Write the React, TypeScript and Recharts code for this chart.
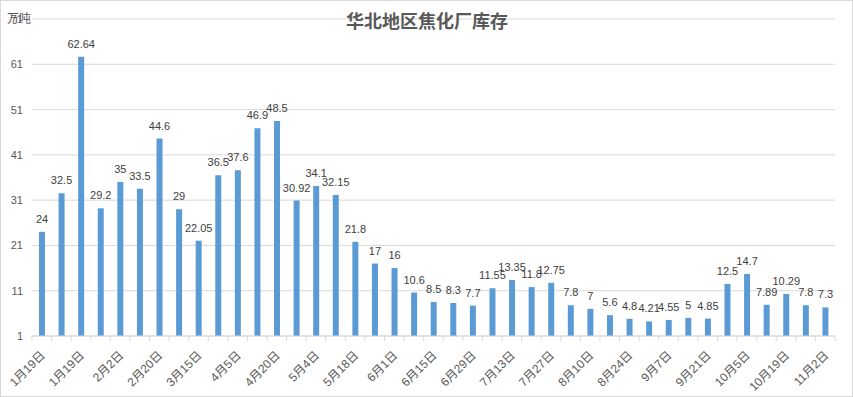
import React from "react";
import { BarChart, Bar, XAxis, YAxis, CartesianGrid, LabelList } from "recharts";

const dates = [
  "1月19日", "1月5日", "1月19日", "1月26日", "2月2日", "2月9日", "2月20日", "3月1日",
  "3月15日", "3月22日", "4月5日", "4月12日", "4月20日", "4月27日", "5月4日", "5月11日",
  "5月18日", "5月25日", "6月1日", "6月8日", "6月15日", "6月22日", "6月29日", "7月6日",
  "7月13日", "7月20日", "7月27日", "8月3日", "8月10日", "8月17日", "8月24日", "8月31日",
  "9月7日", "9月14日", "9月21日", "9月28日", "10月5日", "10月12日", "10月19日", "10月26日",
  "11月2日",
];
const stock = [
  24, 32.5, 62.64, 29.2, 35, 33.5, 44.6, 29, 22.05, 36.5, 37.6, 46.9, 48.5, 30.92, 34.1,
  32.15, 21.8, 17, 16, 10.6, 8.5, 8.3, 7.7, 11.55, 13.35, 11.8, 12.75, 7.8, 7, 5.6, 4.8,
  4.21, 4.55, 5, 4.85, 12.5, 14.7, 7.89, 10.29, 7.8, 7.3,
];
const yTicks = [1, 11, 21, 31, 41, 51, 61, 71];
const title = "华北地区焦化厂库存";
const unit = "万吨";

const data = dates.map((d, i) => ({ idx: i, date: d, value: stock[i] }));

const W = 853;
const H = 397;
const M = { top: 19, right: 18, left: 0, bottom: 0 };
const Y_W = 32;
const X_H = 61;
const plotW = W - M.left - M.right - Y_W;
const band = plotW / data.length;
const plotBottom = H - X_H;
const FONT = "'Liberation Sans', 'Noto Sans CJK SC', sans-serif";

const XTick = (props: any) => {
  const { x, index } = props;
  const i = index as number;
  const left = x - band / 2;
  const right = x + band / 2;
  const lbl = i % 2 === 0 ? dates[i] : null;
  const ax = x + 4;
  const ay = plotBottom + 20;
  return (
    <g>
      <line x1={left} x2={left} y1={plotBottom} y2={plotBottom + 5} stroke="#d9d9d9" />
      {i === data.length - 1 && (
        <line x1={right} x2={right} y1={plotBottom} y2={plotBottom + 5} stroke="#d9d9d9" />
      )}
      {lbl && (
        <text
          x={ax}
          y={ay}
          textAnchor="end"
          transform={`rotate(-45, ${ax}, ${ay})`}
          fontSize={12}
          fill="#595959"
          fontFamily={FONT}
        >
          {lbl}
        </text>
      )}
    </g>
  );
};

const YTick = (props: any) => {
  const { y, payload } = props;
  return (
    <text x={23} y={y + 4} textAnchor="end" fontSize={11} fill="#595959" fontFamily={FONT}>
      {payload.value}
    </text>
  );
};

export default function App() {
  return (
    <div
      style={{
        position: "absolute",
        left: 0,
        top: 0,
        width: W,
        height: H,
        boxSizing: "border-box",
        border: "1px solid #d9d9d9",
        background: "#fff",
        overflow: "hidden",
      }}
    >
      <div style={{ position: "absolute", left: -1, top: -1 }}>
        <BarChart width={W} height={H} data={data} margin={M} barSize={6}>
          <CartesianGrid vertical={false} stroke="#d9d9d9" />
          <XAxis
            dataKey="idx"
            height={X_H}
            interval={0}
            tickLine={false}
            axisLine={{ stroke: "#d9d9d9" }}
            tick={<XTick />}
          />
          <YAxis
            width={Y_W}
            domain={[1, 71]}
            ticks={yTicks}
            axisLine={false}
            tickLine={false}
            tick={<YTick />}
            interval={0}
          />
          <Bar dataKey="value" fill="#5b9bd5" isAnimationActive={false}>
            <LabelList
              dataKey="value"
              position="top"
              offset={9}
              fontSize={11}
              fill="#404040"
              fontFamily={FONT}
            />
          </Bar>
          <text
            x={427}
            y={28}
            textAnchor="middle"
            fontSize={18}
            fontWeight="bold"
            fill="#595959"
            fontFamily="'Noto Sans CJK SC', sans-serif"
          >
            {title}
          </text>
          <text x={7} y={23} fontSize={12} fill="#595959" fontFamily="'Noto Sans CJK SC', sans-serif">
            {unit}
          </text>
        </BarChart>
      </div>
    </div>
  );
}
